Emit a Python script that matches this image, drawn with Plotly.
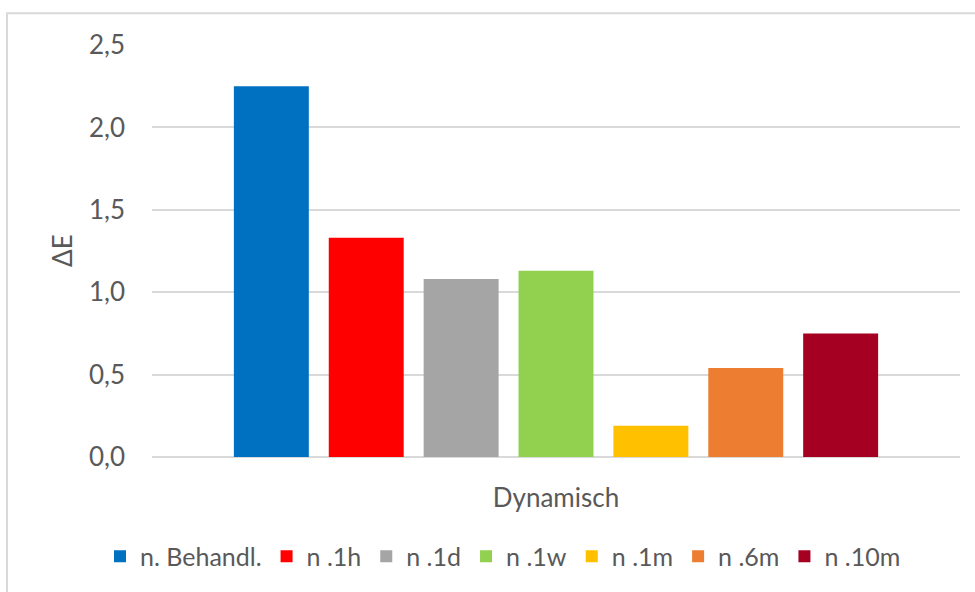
import plotly.graph_objects as go

# Colour difference (ΔE) per treatment stage, single category
category = ["Dynamisch"]
series_names = ["n. Behandl.", "n .1h", "n .1d", "n .1w", "n .1m", "n .6m", "n .10m"]
delta_e = [2.25, 1.33, 1.08, 1.13, 0.19, 0.54, 0.75]
colors = ["#0070C0", "#FF0000", "#A5A5A5", "#92D050", "#FFC000", "#ED7D31", "#A50021"]
y_ticks = [0.0, 0.5, 1.0, 1.5, 2.0, 2.5]

FONT = "Lato"
TEXT_COLOR = "#595959"
GRID_COLOR = "#D9D9D9"

fig = go.Figure()
for name, val, col in zip(series_names, delta_e, colors):
    fig.add_trace(go.Bar(
        x=category,
        y=[val],
        name=name,
        marker=dict(color=col, line=dict(width=0)),
    ))

W, H = 975, 592
ml, mr, mt, mb = 152, 15, 45, 133
pw, ph = W - ml - mr, H - mt - mb

def px_x(x):
    return (x - ml) / pw

def px_y(y):
    return (H - mb - y) / ph

fig.update_layout(
    width=W,
    height=H,
    margin=dict(l=ml, r=mr, t=mt, b=mb, pad=0),
    paper_bgcolor="white",
    plot_bgcolor="white",
    separators=",.",
    barmode="group",
    bargap=0.178,
    bargroupgap=0.21,
    font=dict(family=FONT, size=26, color=TEXT_COLOR),
    showlegend=True,
    legend=dict(
        orientation="h",
        x=px_x(503),
        xanchor="center",
        y=px_y(559),
        yanchor="middle",
        font=dict(family=FONT, size=25, color=TEXT_COLOR),
        bgcolor="rgba(0,0,0,0)",
        traceorder="normal",
    ),
    xaxis=dict(
        showgrid=False,
        showline=False,
        zeroline=False,
        ticks="",
        ticklabelstandoff=23,
        tickfont=dict(family=FONT, size=26, color=TEXT_COLOR),
    ),
    yaxis=dict(
        range=[0, 2.5],
        tickvals=y_ticks,
        tickformat=".1f",
        showgrid=True,
        gridcolor=GRID_COLOR,
        gridwidth=1.5,
        zeroline=True,
        zerolinecolor=GRID_COLOR,
        zerolinewidth=1.5,
        showline=False,
        ticks="",
        ticklabelstandoff=26,
        tickfont=dict(family=FONT, size=26, color=TEXT_COLOR),
    ),
    annotations=[
        dict(
            text="ΔE",
            xref="paper",
            yref="paper",
            x=px_x(62),
            y=0.5,
            xanchor="center",
            yanchor="middle",
            textangle=-90,
            showarrow=False,
            font=dict(family=FONT, size=26, color=TEXT_COLOR),
        )
    ],
    shapes=[
        # chart-area border
        dict(
            type="rect",
            xref="paper",
            yref="paper",
            x0=px_x(7),
            x1=px_x(990),
            y0=px_y(610),
            y1=px_y(13),
            line=dict(color=GRID_COLOR, width=2),
            fillcolor="rgba(0,0,0,0)",
            layer="below",
        )
    ],
)

fig.write_html("out.html")
